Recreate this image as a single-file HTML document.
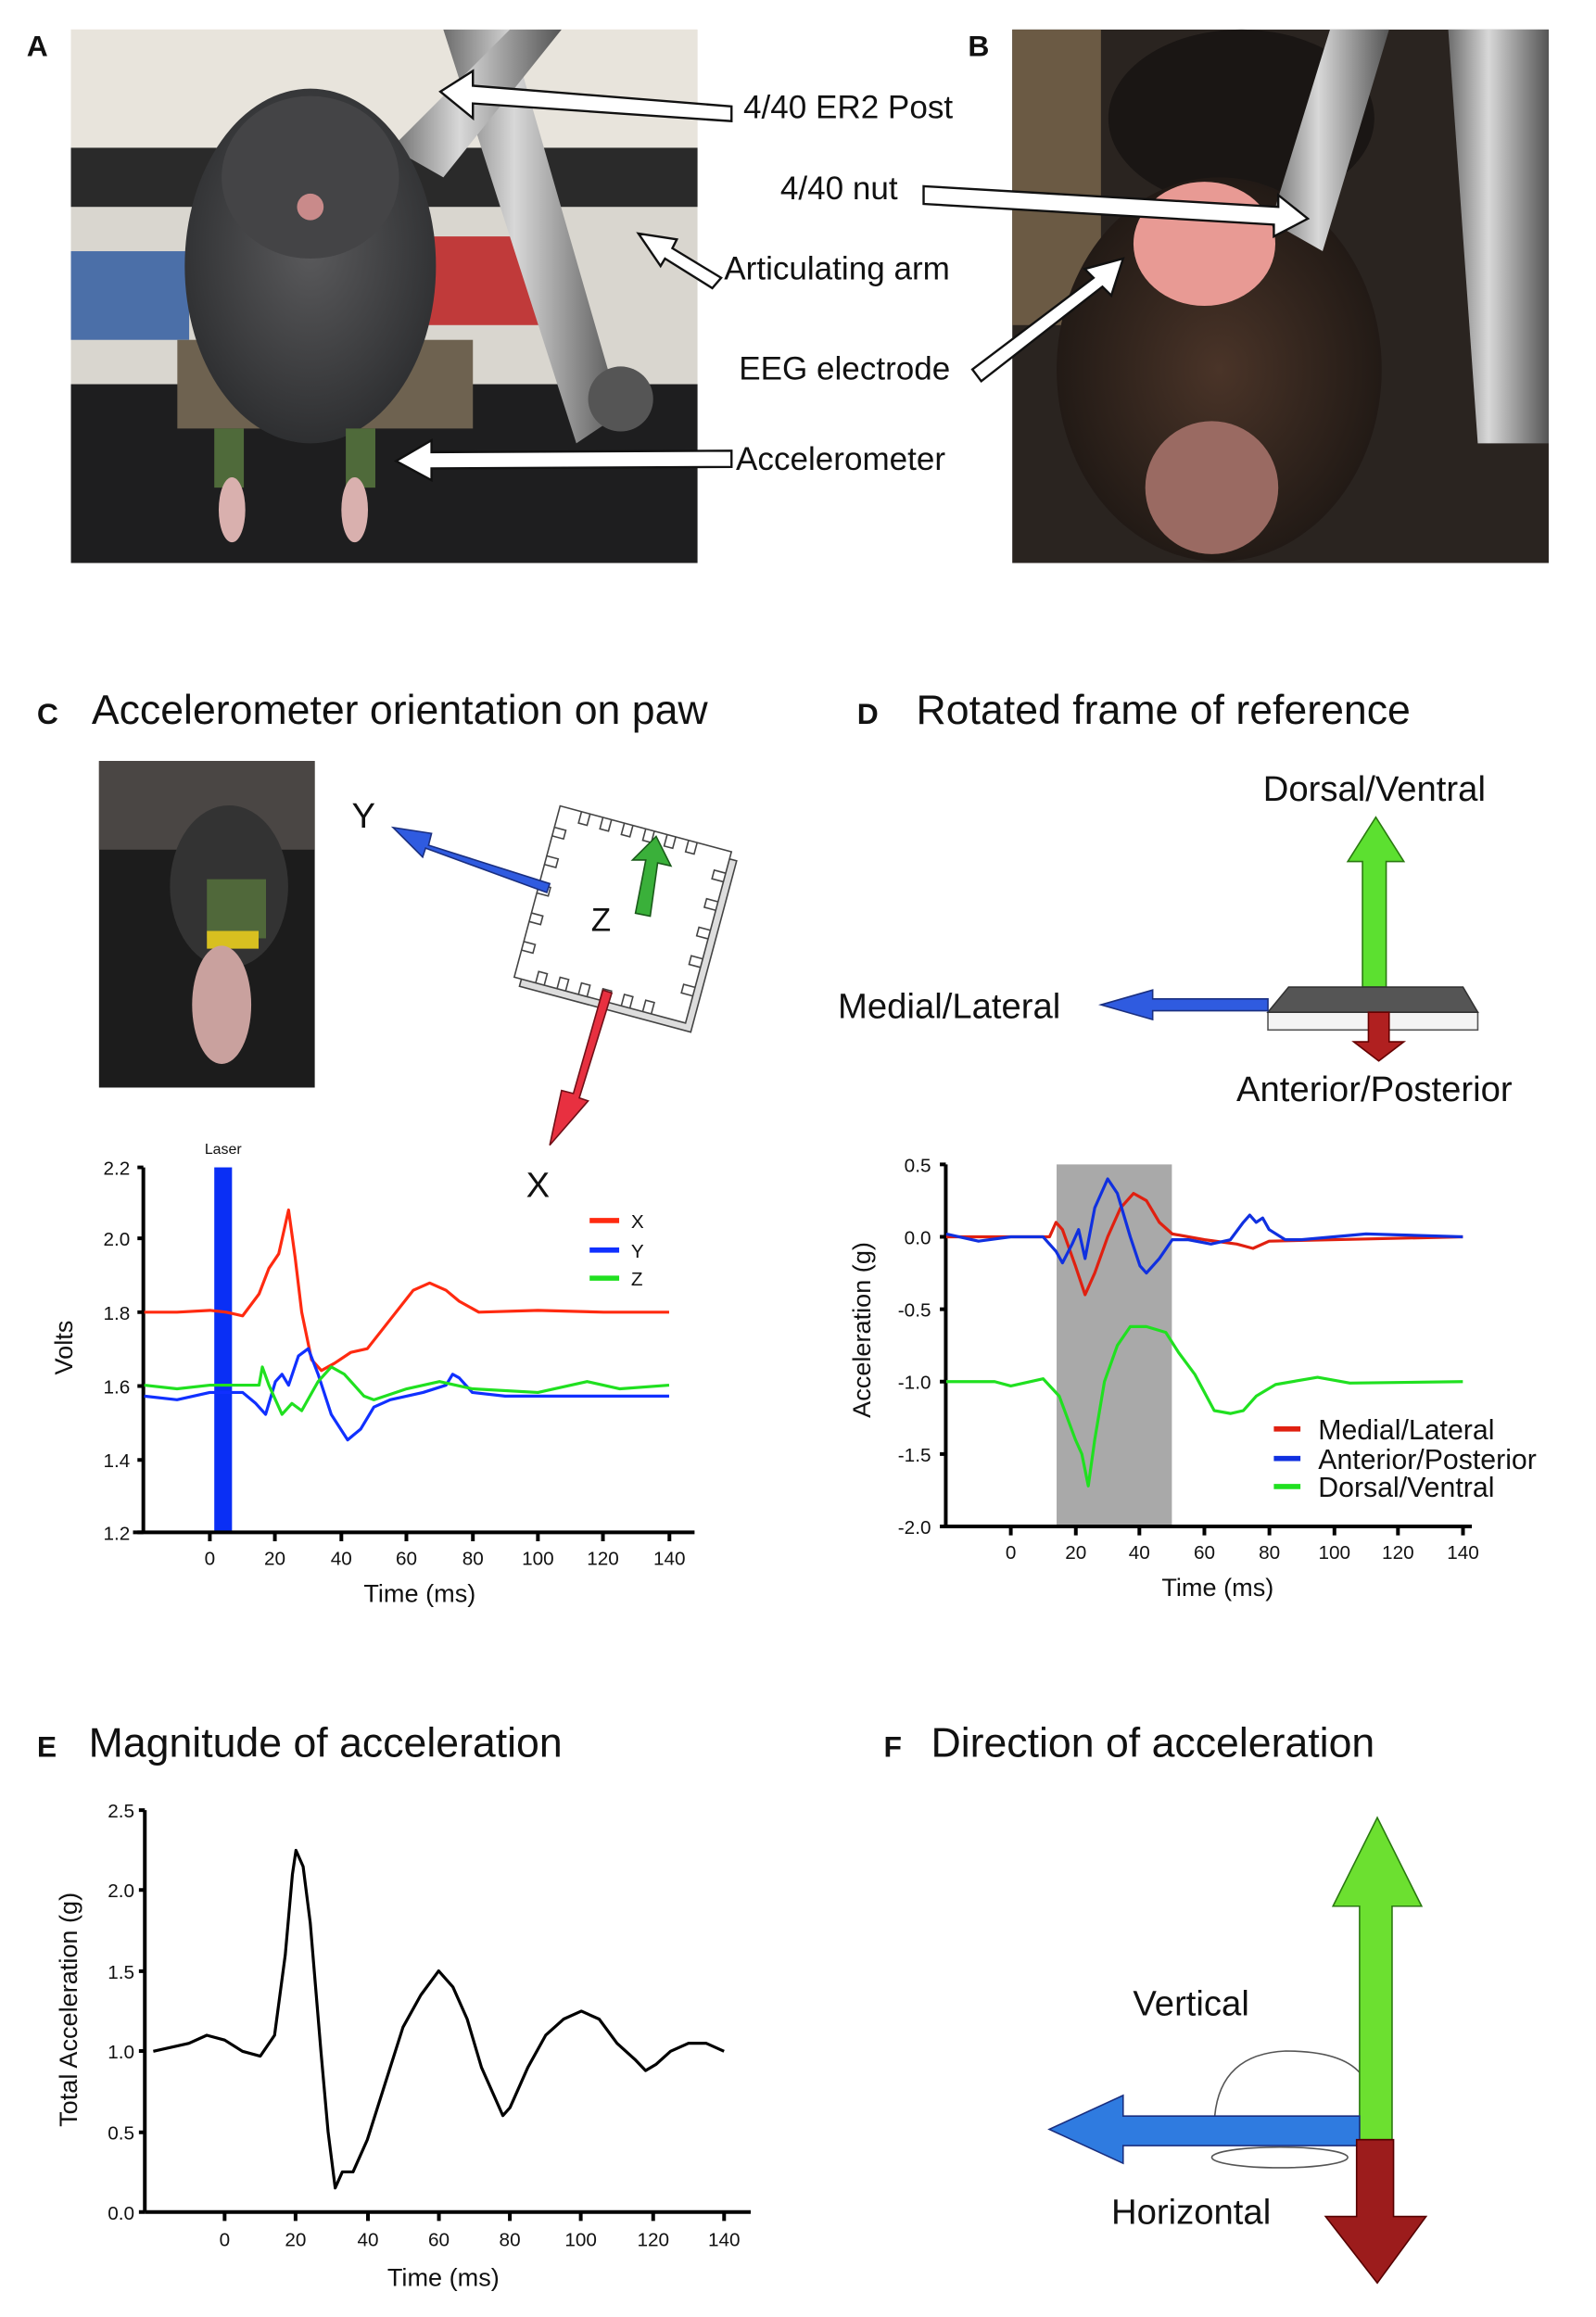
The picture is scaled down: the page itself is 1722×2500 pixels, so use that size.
<!DOCTYPE html>
<html><head><meta charset="utf-8"><style>
html,body{margin:0;padding:0;background:#fff}
svg{display:block}
text{font-family:"Liberation Sans",sans-serif;fill:#111}
</style></head><body>
<svg width="1722" height="2500" viewBox="0 0 1080 1568" preserveAspectRatio="none" xmlns="http://www.w3.org/2000/svg">
<defs>
<radialGradient id="mouseA" cx="0.5" cy="0.45" r="0.55"><stop offset="0" stop-color="#5a5a5c"/><stop offset="1" stop-color="#2e2f31"/></radialGradient>
<radialGradient id="mouseB" cx="0.5" cy="0.5" r="0.6"><stop offset="0" stop-color="#4a3428"/><stop offset="1" stop-color="#1a1512"/></radialGradient>
<linearGradient id="metal" x1="0" x2="1"><stop offset="0" stop-color="#6d6d6d"/><stop offset="0.4" stop-color="#d8d8d8"/><stop offset="1" stop-color="#555"/></linearGradient>
</defs>
<!-- Panel A photo -->
<rect x="48" y="20" width="424" height="361" fill="#d9d6cf"/>
<rect x="48" y="20" width="424" height="90" fill="#e8e4dc"/>
<rect x="48" y="100" width="424" height="40" fill="#2a2a2a"/>
<rect x="48" y="170" width="80" height="60" fill="#4b6fa8"/>
<rect x="280" y="160" width="90" height="60" fill="#c03a3a"/>
<rect x="48" y="260" width="424" height="121" fill="#1e1e1f"/>
<rect x="120" y="230" width="200" height="60" fill="#6e6250"/>
<polygon points="300,20 345,20 420,280 390,300" fill="url(#metal)"/>
<polygon points="345,20 380,20 300,120 265,100" fill="url(#metal)"/>
<circle cx="420" cy="270" r="22" fill="#555"/>
<ellipse cx="210" cy="180" rx="85" ry="120" fill="url(#mouseA)"/>
<ellipse cx="210" cy="120" rx="60" ry="55" fill="#444446"/>
<circle cx="210" cy="140" r="9" fill="#c98a8a"/>
<rect x="145" y="290" width="20" height="40" fill="#4f6a3a"/>
<rect x="234" y="290" width="20" height="40" fill="#4f6a3a"/>
<ellipse cx="157" cy="345" rx="9" ry="22" fill="#d9b0ae"/>
<ellipse cx="240" cy="345" rx="9" ry="22" fill="#d9b0ae"/>
<!-- Panel B photo -->
<rect x="685" y="20" width="363" height="361" fill="#2a2420"/>
<rect x="685" y="20" width="60" height="200" fill="#6b5a44"/>
<ellipse cx="840" cy="80" rx="90" ry="60" fill="#1a1614"/>
<ellipse cx="825" cy="250" rx="110" ry="130" fill="url(#mouseB)"/>
<ellipse cx="820" cy="330" rx="45" ry="45" fill="#9a6a62"/>
<ellipse cx="815" cy="165" rx="48" ry="42" fill="#e89a94"/>
<polygon points="860,150 900,20 940,20 895,170" fill="url(#metal)"/>
<polygon points="980,20 1048,20 1048,300 1000,300" fill="url(#metal)"/>
<!-- Labels A/B -->
<text x="18" y="38" font-size="20" font-weight="bold">A</text>
<text x="655" y="38" font-size="20" font-weight="bold">B</text>
<!-- Arrows -->
<g fill="#fff" stroke="#111" stroke-width="1.5">
<polygon points="495,72 320,58 320,48 298,62 320,80 320,70 495,82"/>
<polygon points="625,126 865,140 865,132 885,148 862,160 862,152 625,138"/>
<polygon points="488,188 455,168 458,162 432,158 447,180 450,175 482,195"/>
<polygon points="658,250 740,188 734,182 760,175 752,200 746,194 664,258"/>
<polygon points="495,305 292,306 292,298 268,312 292,325 292,317 495,316"/>
</g>
<g font-size="22">
<text x="503" y="80">4/40 ER2 Post</text>
<text x="528" y="135">4/40 nut</text>
<text x="490" y="189">Articulating arm</text>
<text x="500" y="257">EEG electrode</text>
<text x="498" y="318">Accelerometer</text>
</g>
<!-- Section titles -->
<text x="25" y="490" font-size="20" font-weight="bold">C</text>
<text x="62" y="490" font-size="28">Accelerometer orientation on paw</text>
<text x="580" y="490" font-size="20" font-weight="bold">D</text>
<text x="620" y="490" font-size="28">Rotated frame of reference</text>
<text x="25" y="1189" font-size="20" font-weight="bold">E</text>
<text x="60" y="1189" font-size="28">Magnitude of acceleration</text>
<text x="598" y="1189" font-size="20" font-weight="bold">F</text>
<text x="630" y="1189" font-size="28">Direction of acceleration</text>
<!-- C photo -->
<rect x="67" y="515" width="146" height="221" fill="#1c1c1c"/>
<rect x="67" y="515" width="146" height="60" fill="#4a4644"/>
<ellipse cx="155" cy="600" rx="40" ry="55" fill="#333"/>
<rect x="140" y="595" width="40" height="40" fill="#50683a"/>
<rect x="140" y="630" width="35" height="12" fill="#d8c020"/>
<ellipse cx="150" cy="680" rx="20" ry="40" fill="#c9a19e"/>
<!-- chip diagram -->
<g transform="rotate(15 425 625)">
<rect x="365" y="565" width="120" height="120" fill="#ddd" stroke="#444"/>
<rect x="360" y="560" width="120" height="120" fill="#fff" stroke="#444"/>
<g fill="none" stroke="#444" stroke-width="1">
<path d="M375 560v8h6v-8M390 560v8h6v-8M405 560v8h6v-8M420 560v8h6v-8M435 560v8h6v-8M450 560v8h6v-8"/>
<path d="M375 680v-8h6v8M390 680v-8h6v8M405 680v-8h6v8M420 680v-8h6v8M435 680v-8h6v8M450 680v-8h6v8"/>
<path d="M360 575h8v6h-8M360 595h8v6h-8M360 615h8v6h-8M360 635h8v6h-8M360 655h8v6h-8"/>
<path d="M480 575h-8v6h8M480 595h-8v6h8M480 615h-8v6h8M480 635h-8v6h8M480 655h-8v6h8"/>
</g>
</g>
<polygon points="430,618 437,582 428,582 444,566 454,586 445,584 440,620" fill="#3ab03a" stroke="#1a5a1a"/>
<text x="400" y="630" font-size="22">Z</text>
<polygon points="372,598 290,572 292,564 266,560 286,580 288,574 370,604" fill="#2f5be0" stroke="#1a2f80"/>
<text x="238" y="560" font-size="24">Y</text>
<polygon points="408,670 388,740 380,738 372,775 398,745 392,743 414,672" fill="#e83040" stroke="#701018"/>
<text x="356" y="810" font-size="24">X</text>
<!-- C plot -->
<rect x="145" y="790" width="12" height="247" fill="#0a2ff5"/>
<text x="151" y="781" font-size="10" text-anchor="middle">Laser</text>
<g stroke="#000" stroke-width="2.5" fill="none">
<path d="M97 790V1037M90 1037H470"/>
<path d="M93 790h4M93 838h4M93 888h4M93 938h4M93 988h4M93 1037h4"/>
<path d="M142 1037v6M186 1037v6M231 1037v6M275 1037v6M320 1037v6M364 1037v6M408 1037v6M453 1037v6"/>
</g>
<g font-size="13" text-anchor="end">
<text x="88" y="795">2.2</text><text x="88" y="843">2.0</text><text x="88" y="893">1.8</text><text x="88" y="943">1.6</text><text x="88" y="993">1.4</text><text x="88" y="1042">1.2</text>
</g>
<g font-size="13" text-anchor="middle">
<text x="142" y="1059">0</text><text x="186" y="1059">20</text><text x="231" y="1059">40</text><text x="275" y="1059">60</text><text x="320" y="1059">80</text><text x="364" y="1059">100</text><text x="408" y="1059">120</text><text x="453" y="1059">140</text>
</g>
<text x="284" y="1084" font-size="17" text-anchor="middle">Time (ms)</text>
<text transform="translate(49 912) rotate(-90)" font-size="17" text-anchor="middle">Volts</text>
<g transform="translate(142 1332.6) scale(2.22 -247)" fill="none" stroke-width="3.2" stroke-linejoin="round">
<polyline vector-effect="non-scaling-stroke" stroke="#ff2a10" points="-20,1.8 -10,1.8 0,1.805 5,1.8 10,1.79 15,1.85 18,1.92 21,1.96 24,2.08 26,1.95 28,1.8 31,1.67 34,1.64 38,1.66 43,1.69 48,1.7 55,1.78 62,1.86 67,1.88 72,1.86 76,1.83 82,1.8 100,1.805 120,1.8 140,1.8"/>
<polyline vector-effect="non-scaling-stroke" stroke="#1030ff" points="-20,1.57 -10,1.56 0,1.58 10,1.58 14,1.55 17,1.52 20,1.61 22,1.63 24,1.6 27,1.68 30,1.7 33,1.63 37,1.52 42,1.45 46,1.48 50,1.54 55,1.56 65,1.58 72,1.6 74,1.63 76,1.62 80,1.58 90,1.57 140,1.57"/>
<polyline vector-effect="non-scaling-stroke" stroke="#20e020" points="-20,1.6 -10,1.59 0,1.6 15,1.6 16,1.65 18,1.6 22,1.52 25,1.55 28,1.53 33,1.61 37,1.65 41,1.63 47,1.57 50,1.56 60,1.59 70,1.61 80,1.59 100,1.58 115,1.61 125,1.59 140,1.6"/>
</g>
<g stroke-width="3.5"><path d="M399 826h20" stroke="#ff2a10"/><path d="M399 846h20" stroke="#1030ff"/><path d="M399 865h20" stroke="#20e020"/></g>
<g font-size="13"><text x="427" y="831">X</text><text x="427" y="851">Y</text><text x="427" y="870">Z</text></g>
<!-- D diagram -->
<polygon points="922,668 922,583 912,583 931,553 950,583 938,583 938,668" fill="#5ce030" stroke="#2a7a10"/>
<text x="930" y="542" font-size="24" text-anchor="middle">Dorsal/Ventral</text>
<polygon points="858,685 1000,685 1000,697 858,697" fill="#f4f4f4" stroke="#555"/>
<polygon points="858,685 872,668 990,668 1000,685" fill="#555" stroke="#333"/>
<polygon points="858,676 780,676 780,670 745,680 780,690 780,684 858,684" fill="#2f5be0" stroke="#1a2f80"/>
<text x="567" y="689" font-size="24">Medial/Lateral</text>
<polygon points="926,685 940,685 940,705 950,705 933,718 916,705 926,705" fill="#b02020" stroke="#600"/>
<text x="930" y="745" font-size="24" text-anchor="middle">Anterior/Posterior</text>
<!-- D plot -->
<rect x="715" y="788" width="78" height="245" fill="#a9a9a9"/>
<g stroke="#000" stroke-width="2.5" fill="none">
<path d="M640 788V1033M638 1033H996"/>
<path d="M636 788h4M636 837h4M636 886h4M636 935h4M636 984h4M636 1033h4"/>
<path d="M684 1033v6M728 1033v6M771 1033v6M815 1033v6M859 1033v6M903 1033v6M946 1033v6M990 1033v6"/>
</g>
<g font-size="13" text-anchor="end">
<text x="630" y="793">0.5</text><text x="630" y="842">0.0</text><text x="630" y="891">-0.5</text><text x="630" y="940">-1.0</text><text x="630" y="989">-1.5</text><text x="630" y="1038">-2.0</text>
</g>
<g font-size="13" text-anchor="middle">
<text x="684" y="1055">0</text><text x="728" y="1055">20</text><text x="771" y="1055">40</text><text x="815" y="1055">60</text><text x="859" y="1055">80</text><text x="903" y="1055">100</text><text x="946" y="1055">120</text><text x="990" y="1055">140</text>
</g>
<text x="824" y="1080" font-size="17" text-anchor="middle">Time (ms)</text>
<text transform="translate(589 900) rotate(-90)" font-size="17" text-anchor="middle">Acceleration (g)</text>
<g transform="translate(684 837) scale(2.185 -98)" fill="none" stroke-width="3.2" stroke-linejoin="round">
<polyline vector-effect="non-scaling-stroke" stroke="#e02010" points="-20,0 12,0 14,0.1 16,0.05 20,-0.2 23,-0.4 26,-0.25 30,0 34,0.2 38,0.3 42,0.25 46,0.1 50,0.02 60,-0.02 70,-0.05 75,-0.08 80,-0.03 140,0"/>
<polyline vector-effect="non-scaling-stroke" stroke="#1030e0" points="-20,0.02 -10,-0.03 0,0 10,0 14,-0.1 16,-0.18 19,-0.05 21,0.05 23,-0.15 26,0.2 30,0.4 33,0.3 37,0 40,-0.2 42,-0.25 46,-0.15 50,-0.02 55,-0.02 62,-0.05 68,-0.02 72,0.1 74,0.15 76,0.1 78,0.13 80,0.05 85,-0.02 90,-0.02 110,0.02 140,0"/>
<polyline vector-effect="non-scaling-stroke" stroke="#20e020" points="-20,-1 -5,-1 0,-1.03 10,-0.98 15,-1.1 20,-1.4 22,-1.5 24,-1.72 26,-1.4 29,-1 33,-0.75 37,-0.62 42,-0.62 48,-0.66 52,-0.8 57,-0.95 63,-1.2 68,-1.22 72,-1.2 76,-1.1 82,-1.02 95,-0.97 105,-1.01 140,-1"/>
</g>
<g stroke-width="3.5"><path d="M862 967h18" stroke="#e02010"/><path d="M862 987h18" stroke="#1030e0"/><path d="M862 1006h18" stroke="#20e020"/></g>
<g font-size="19"><text x="892" y="974">Medial/Lateral</text><text x="892" y="994">Anterior/Posterior</text><text x="892" y="1013">Dorsal/Ventral</text></g>
<!-- E plot -->
<g stroke="#000" stroke-width="2.5" fill="none">
<path d="M98 1225V1497M98 1497H508"/>
<path d="M94 1225h4M94 1279h4M94 1334h4M94 1388h4M94 1443h4M94 1497h4"/>
<path d="M152 1497v6M200 1497v6M249 1497v6M297 1497v6M345 1497v6M393 1497v6M442 1497v6M490 1497v6"/>
</g>
<g font-size="13" text-anchor="end">
<text x="91" y="1230">2.5</text><text x="91" y="1284">2.0</text><text x="91" y="1339">1.5</text><text x="91" y="1393">1.0</text><text x="91" y="1448">0.5</text><text x="91" y="1502">0.0</text>
</g>
<g font-size="13" text-anchor="middle">
<text x="152" y="1520">0</text><text x="200" y="1520">20</text><text x="249" y="1520">40</text><text x="297" y="1520">60</text><text x="345" y="1520">80</text><text x="393" y="1520">100</text><text x="442" y="1520">120</text><text x="490" y="1520">140</text>
</g>
<text x="300" y="1547" font-size="17" text-anchor="middle">Time (ms)</text>
<text transform="translate(52 1360) rotate(-90)" font-size="17" text-anchor="middle">Total Acceleration (g)</text>
<g transform="translate(152 1497) scale(2.414 -108.8)" fill="none" stroke-width="3.2" stroke-linejoin="round">
<polyline vector-effect="non-scaling-stroke" stroke="#000" points="-20,1 -10,1.05 -5,1.1 0,1.07 5,1 10,0.97 14,1.1 17,1.6 19,2.1 20,2.25 22,2.15 24,1.8 27,1 29,0.5 31,0.15 33,0.25 36,0.25 40,0.45 45,0.8 50,1.15 55,1.35 60,1.5 64,1.4 68,1.2 72,0.9 76,0.7 78,0.6 80,0.65 85,0.9 90,1.1 95,1.2 100,1.25 105,1.2 110,1.05 115,0.95 118,0.88 121,0.92 125,1 130,1.05 135,1.05 140,1"/>
</g>
<!-- F diagram -->
<path d="M822 1432 Q826 1390 870 1388 Q910 1388 922 1405" fill="none" stroke="#555"/>
<ellipse cx="866" cy="1460" rx="46" ry="7" fill="none" stroke="#555"/>
<polygon points="920,1290 902,1290 932,1230 962,1290 942,1290 942,1448 920,1448" fill="#6ce030" stroke="#2a7a10"/>
<polygon points="920,1432 760,1432 760,1418 710,1441 760,1464 760,1452 920,1452" fill="#2f7be0" stroke="#1a2f80"/>
<polygon points="918,1448 943,1448 943,1500 965,1500 932,1545 897,1500 918,1500" fill="#9c1c1c" stroke="#500"/>
<text x="806" y="1364" font-size="24" text-anchor="middle">Vertical</text>
<text x="806" y="1505" font-size="24" text-anchor="middle">Horizontal</text>
</svg>
</body></html>
